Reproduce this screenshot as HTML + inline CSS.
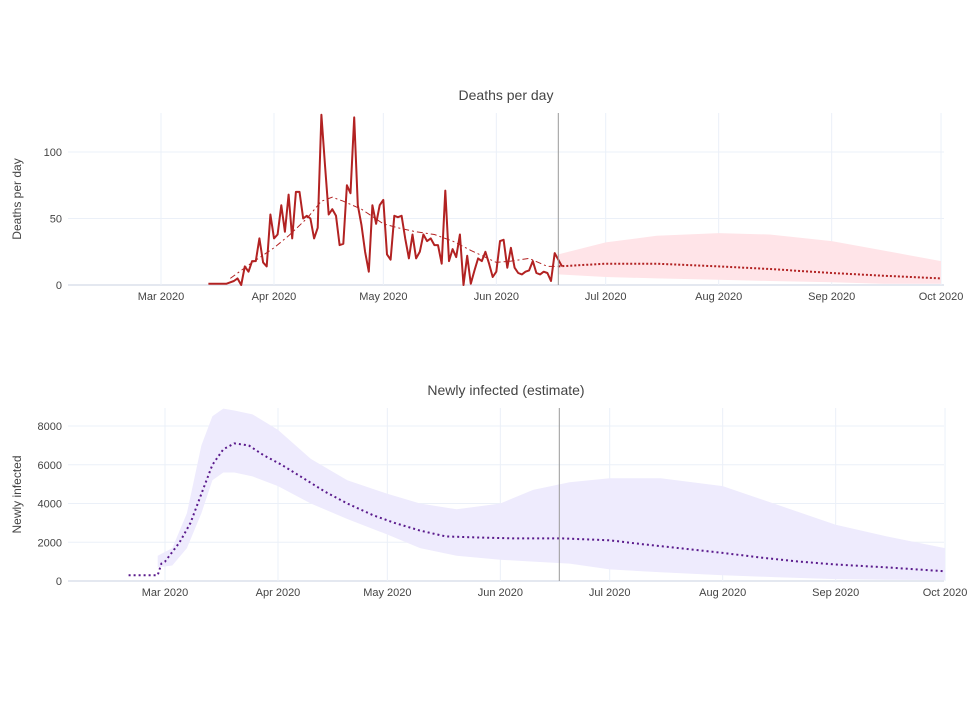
<!DOCTYPE html>
<html><head><meta charset="utf-8"><style>
body{margin:0;background:#fff;font-family:"Liberation Sans",sans-serif}
svg text{font-family:"Liberation Sans",sans-serif;fill:#444}
</style></head><body>
<svg id="c" width="980" height="699"></svg>
<script>
const monthTicks=[0,31,61,92,122,153,184,214];
const monthLabels=["Mar 2020","Apr 2020","May 2020","Jun 2020","Jul 2020","Aug 2020","Sep 2020","Oct 2020"];
const deathTicks=[0,50,100];
const infTicks=[0,2000,4000,6000,8000];
const deathStart=13;
const deathValues=[1,1,1,1,1,1,2,3,5,0,14,10,18,18,35,17,14,53,35,38,60,40,68,35,70,70,50,52,50,35,43,128,90,53,57,52,30,31,75,69,126,60,45,25,10,60,46,60,64,23,19,52,51,52,35,20,38,20,25,38,33,35,30,30,16,71,18,27,21,38,0,22,1,11,20,18,25,16,6,10,33,34,13,28,13,9,8,10,11,18,9,8,10,9,3,24,19,14];
const smoothDays=[19,24,31,35,40,44,47,50,55,61,65,70,75,80,85,92,96,101,106,109];
const smoothVals=[5,15,28,37,50,63,66,63,57,46,43,40,38,33,26,17,18,20,14,14];
const fcDays=[109,122,136,153,167,184,198,214];
const fcVals=[14,16,16,14,12,9,7,5];
const fcUpper=[23,32,37,39,38,33,26,18];
const fcLower=[8,6,5,4,3,2,1,1];
const infDays=[-10,-2,-1,0,4,7,10,13,16,19,23,27,32,38,44,50,57,63,70,77,85,96,109,122,131,141,153,164,174,184,198,214];
const infVals=[300,300,900,1000,2000,3000,4500,6000,6800,7100,7000,6500,6000,5300,4600,4000,3400,3000,2600,2300,2250,2200,2200,2100,1900,1700,1450,1200,1000,850,700,500];
const bandDays=[-2,2,6,10,13,16,19,24,31,40,50,61,70,80,92,101,111,122,136,153,167,184,198,214];
const bandUpper=[1300,1700,3500,7000,8500,8900,8800,8600,7800,6300,5200,4500,4000,3700,4000,4700,5100,5300,5300,4900,4000,2900,2300,1700];
const bandLower=[700,800,1700,3500,5200,5600,5600,5400,4900,4000,3200,2400,1700,1300,1100,1000,900,600,450,300,200,100,60,50];
const todayDay=109;

const NS="http://www.w3.org/2000/svg",svg=document.getElementById('c');
function mk(t,a,p){const e=document.createElementNS(NS,t);for(const k in a)e.setAttribute(k,a[k]);(p||svg).appendChild(e);return e;}
function panel(o){
  const g=mk('g',{});
  
  
  const X=d=>o.x0+d*3.645, Y=v=>o.y0-v*o.ys;
  o.yt.forEach(v=>{const l=mk('line',{x1:68,x2:944,y1:Y(v),y2:Y(v),stroke:v===0?'#e4e8f0':'#ebf0f8','stroke-width':v===0?2:1},g);
    
    const t=mk('text',{x:62,y:Y(v)+4,'text-anchor':'end','font-size':11},g);t.textContent=v;
    });
  monthTicks.forEach((d,i)=>{const l=mk('line',{x1:X(d),x2:X(d),y1:o.top,y2:o.y0,stroke:'#ebf0f8'},g);
    
    const t=mk('text',{x:X(d),y:o.y0+15,'text-anchor':'middle','font-size':11},g);t.textContent=monthLabels[i];
    });
  const tt=mk('text',{x:506,y:o.top-13,'text-anchor':'middle','font-size':14},g);tt.textContent=o.title;
  
  const yt=mk('text',{transform:`translate(21,${(o.top+o.y0)/2}) rotate(-90)`,'text-anchor':'middle','font-size':12},g);yt.textContent=o.ytitle;
  
  return {g,X,Y};
}
function pts(days,vals,X,Y){return days.map((d,i)=>X(d).toFixed(1)+','+Y(vals[i]).toFixed(1));}

const A=panel({name:'deaths-panel',x0:161,y0:285,ys:1.33,top:113,yt:deathTicks,title:'Deaths per day',ytitle:'Deaths per day'});
let band=mk('polygon',{points:pts(fcDays,fcUpper,A.X,A.Y).concat(pts(fcDays,fcLower,A.X,A.Y).reverse()).join(' '),fill:'#ffe4e8'},A.g);

const dd=deathValues.map((v,i)=>deathStart+i);
let l1=mk('polyline',{points:pts(dd,deathValues,A.X,A.Y).join(' '),fill:'none',stroke:'#b22222','stroke-width':2,'stroke-linejoin':'round'},A.g);

let l2=mk('polyline',{points:pts(smoothDays,smoothVals,A.X,A.Y).join(' '),fill:'none',stroke:'#b22222','stroke-width':1,'stroke-dasharray':'6,3,2,3'},A.g);

let l3=mk('polyline',{points:pts(fcDays,fcVals,A.X,A.Y).join(' '),fill:'none',stroke:'#b22222','stroke-width':2,'stroke-dasharray':'2,2'},A.g);

let v1=mk('line',{x1:A.X(todayDay),x2:A.X(todayDay),y1:113,y2:285,stroke:'#999','stroke-width':1},A.g);


const B=panel({name:'infected-panel',x0:165,y0:581,ys:155/8000,top:408,yt:infTicks,title:'Newly infected (estimate)',ytitle:'Newly infected'});
let b2=mk('polygon',{points:pts(bandDays,bandUpper,B.X,B.Y).concat(pts(bandDays,bandLower,B.X,B.Y).reverse()).join(' '),fill:'#eeebfd'},B.g);

let l4=mk('polyline',{points:pts(infDays,infVals,B.X,B.Y).join(' '),fill:'none',stroke:'#5a1a8c','stroke-width':2,'stroke-dasharray':'2,3'},B.g);

let v2=mk('line',{x1:B.X(todayDay)-3,x2:B.X(todayDay)-3,y1:408,y2:581,stroke:'#999','stroke-width':1},B.g);

</script>
</body></html>
